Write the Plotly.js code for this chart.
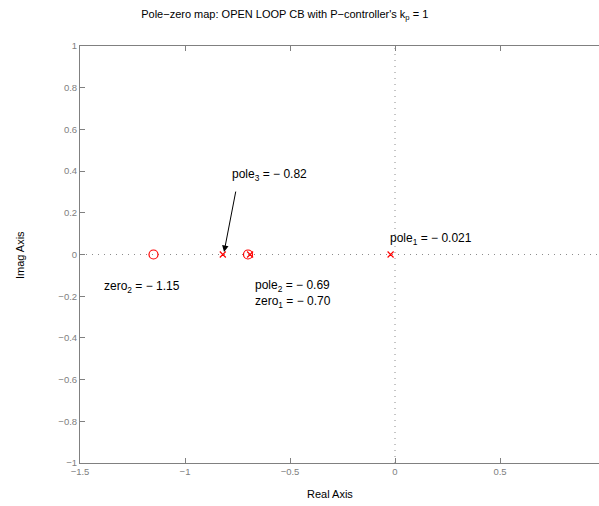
<!DOCTYPE html>
<html>
<head>
<meta charset="utf-8">
<script src="https://cdn.plot.ly/plotly-3.0.1.min.js"></script>
<style>
html, body { margin: 0; padding: 0; overflow: hidden; background: #fff; }
#chart { width: 610px; height: 506px; }
</style>
</head>
<body>
<div id="chart"></div>
<script>
// Data
var poleRe = [-0.021, -0.69, -0.82];
var poleIm = [0, 0, 0];
var zeroRe = [-0.70, -1.15];
var zeroIm = [0, 0];
var xTicks = [-1.5, -1, -0.5, 0, 0.5, 1];
var xTickText = ["\u22121.5", "\u22121", "\u22120.5", "0", "0.5", ""];
var yTicks = [-1, -0.8, -0.6, -0.4, -0.2, 0, 0.2, 0.4, 0.6, 0.8, 1];
var labelText = ["pole<sub>1</sub> = \u2212 0.021", "pole<sub>2</sub> = \u2212 0.69",
                 "zero<sub>1</sub> = \u2212 0.70", "zero<sub>2</sub> = \u2212 1.15",
                 "pole<sub>3</sub> = \u2212 0.82"];
var labelX = [-0.031, -0.674, -0.674, -1.394, -0.785];
var labelY = [0.072, -0.153, -0.230, -0.158, 0.379];

var FONT = "Liberation Sans, Arial, Helvetica, sans-serif";
var GRAY = "#808080";

var traces = [
  { x: zeroRe, y: zeroIm, type: "scatter", mode: "markers", hoverinfo: "none",
    marker: { symbol: "circle-open", size: 9, color: "red", line: { color: "red", width: 1.2 } } },
  { x: poleRe, y: poleIm, type: "scatter", mode: "markers", hoverinfo: "none",
    marker: { symbol: "x-thin-open", size: 6, color: "red", line: { color: "red", width: 1.2 } } }
];

var annotations = [];
for (var i = 0; i < labelText.length; i++) {
  annotations.push({ x: labelX[i], y: labelY[i], xref: "x", yref: "y", text: labelText[i],
    showarrow: false, xanchor: "left", yanchor: "middle", font: { family: FONT, size: 12, color: "#000" } });
}
// arrow pointing at pole 3
annotations.push({ x: poleRe[2] + 0.006, y: 0.012, xref: "x", yref: "y", ax: -0.757, ay: 0.309,
  axref: "x", ayref: "y", text: "", showarrow: true, arrowhead: 2, arrowsize: 1.3, arrowwidth: 1, arrowcolor: "#000" });
annotations.push({ x: 0.476, y: -0.074, xref: "paper", yref: "paper", text: "Real Axis", showarrow: false,
  xanchor: "center", yanchor: "middle", font: { family: FONT, size: 11, color: "#000" } });
annotations.push({ x: -0.114, y: 0.499, xref: "paper", yref: "paper", text: "Imag Axis", showarrow: false,
  textangle: -90, xanchor: "center", yanchor: "middle", font: { family: FONT, size: 11, color: "#000" } });

var axisCommon = {
  showgrid: false, zeroline: false, showline: true, linecolor: GRAY, linewidth: 1,
  mirror: "ticks", ticks: "inside", ticklen: 5, tickcolor: GRAY, tickwidth: 1,
  tickfont: { family: FONT, size: 9.5, color: GRAY }
};

var layout = {
  width: 610, height: 506,
  margin: { l: 80, r: 5, t: 46, b: 43 },
  paper_bgcolor: "#fff", plot_bgcolor: "#fff",
  showlegend: false,
  title: { text: "Pole\u2212zero map: OPEN LOOP CB with P\u2212controller's k<sub>p</sub> = 1",
    font: { family: FONT, size: 11, color: "#000" }, xref: "paper", x: 0.39, xanchor: "center",
    yref: "container", y: 0.972, yanchor: "middle" },
  xaxis: Object.assign({}, axisCommon, { range: [-1.5, 1], tickvals: xTicks, ticktext: xTickText }),
  yaxis: Object.assign({}, axisCommon, { range: [-1, 1], tickvals: yTicks }),
  shapes: [
    { type: "line", xref: "x", yref: "y", x0: -1.5, x1: 1, y0: 0, y1: 0, layer: "below",
      line: { color: "#8c8c8c", width: 1, dash: "1px,5px" } },
    { type: "line", xref: "x", yref: "y", x0: 0, x1: 0, y0: -1, y1: 1, layer: "below",
      line: { color: "#8c8c8c", width: 1, dash: "1px,5px" } }
  ],
  annotations: annotations
};

Plotly.newPlot("chart", traces, layout, { staticPlot: true, displayModeBar: false });
</script>
</body>
</html>
